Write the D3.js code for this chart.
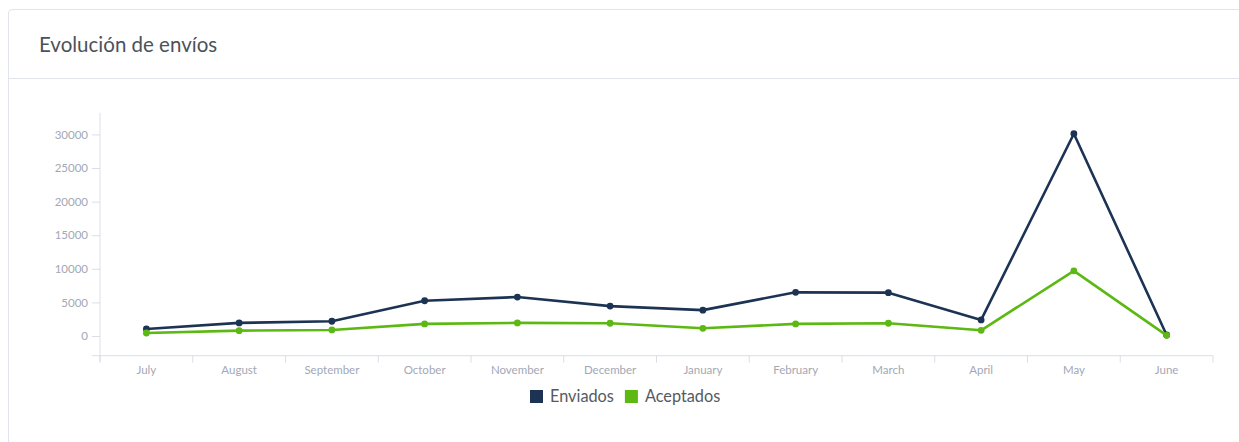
<!DOCTYPE html>
<html>
<head>
<meta charset="utf-8">
<script src="https://cdn.jsdelivr.net/npm/d3@7"></script>
<style>
  html, body { margin: 0; padding: 0; background: #fff; }
  body { width: 1239px; height: 442px; overflow: hidden; position: relative; font-family: Lato, "Open Sans", sans-serif; }
  .card { position: absolute; left: 8px; top: 9px; width: 1300px; height: 500px; border: 1px solid #e1e4ec; border-radius: 4px; box-sizing: border-box; }
  .card-header { position: absolute; left: 0; top: 0; right: 0; height: 68px; border-bottom: 1px solid #e1e4ec; }
  .card-title { position: absolute; left: 30px; top: 22px; font-size: 20.5px; color: #4d5259; font-family: Lato, sans-serif; }
  svg { position: absolute; left: 0; top: 0; }
</style>
</head>
<body>
<div class="card"><div class="card-header"><div class="card-title">Evolución de envíos</div></div></div>
<svg id="chart" width="1239" height="442"></svg>
<script>
const months = ["July","August","September","October","November","December","January","February","March","April","May","June"];
const enviados = [1050, 1950, 2200, 5250, 5800, 4450, 3850, 6500, 6450, 2400, 30100, 150];
const aceptados = [450, 800, 900, 1800, 1950, 1900, 1150, 1800, 1900, 850, 9700, 100];
const yTicks = [0, 5000, 10000, 15000, 20000, 25000, 30000];
const seriesNames = ["Enviados", "Aceptados"];
const seriesColors = ["#1d3354", "#5cb812"];

const svg = d3.select("#chart");
const x = d3.scaleBand().domain(months).range([100, 1213]);
const y = d3.scaleLinear().domain([-2930, 33190]).range([355.7, 113]);

const axisColor = "#d9dee8";
const labelColor = "#a3a8b5";

// Y axis
const gy = svg.append("g").attr("transform", "translate(100,0)")
  .call(d3.axisLeft(y).tickValues(yTicks).tickSize(8).tickPadding(4).tickFormat(d3.format("d")));
gy.select(".domain").attr("d", `M0,${y.range()[1]}V${y.range()[0] + 6}`);
// X axis
const gx = svg.append("g").attr("transform", `translate(0,${y.range()[0]})`)
  .call(d3.axisBottom(x).tickSize(0).tickPadding(10));
gx.select(".domain").attr("d", `M92,0H${x.range()[1]}`);
gx.selectAll(".bound").data(months.concat(["__end"])).enter().append("line")
  .attr("class", "bound")
  .attr("x1", (d, i) => x.range()[0] + i * x.step()).attr("x2", (d, i) => x.range()[0] + i * x.step())
  .attr("y1", 0).attr("y2", 7);

[gx, gy].forEach(g => {
  g.selectAll(".domain, line").attr("stroke", axisColor).attr("stroke-width", 1);
  g.selectAll("text").attr("fill", labelColor).style("font-size", "11.5px").style("font-family", "Lato, sans-serif");
});

const cx = d => x(d) + x.bandwidth() / 2;
[enviados, aceptados].forEach((vals, si) => {
  const pts = months.map((m, i) => [cx(m), y(vals[i])]);
  svg.append("path").attr("d", d3.line()(pts)).attr("fill", "none")
    .attr("stroke", seriesColors[si]).attr("stroke-width", 2.6).attr("stroke-linejoin", "round");
  svg.selectAll(null).data(pts).enter().append("circle")
    .attr("cx", d => d[0]).attr("cy", d => d[1]).attr("r", 3.4).attr("fill", seriesColors[si]);
});

// Legend
const legend = svg.append("g");
let lx = 530;
seriesNames.forEach((name, i) => {
  legend.append("rect").attr("x", lx).attr("y", 390).attr("width", 13).attr("height", 13).attr("fill", seriesColors[i]);
  const t = legend.append("text").attr("x", lx + 20).attr("y", 402).text(name)
    .attr("fill", "#555a60").style("font-size", "16.3px").style("font-family", "Lato, sans-serif");
  lx += 20 + t.node().getComputedTextLength() + 11;
});
</script>
</body>
</html>
